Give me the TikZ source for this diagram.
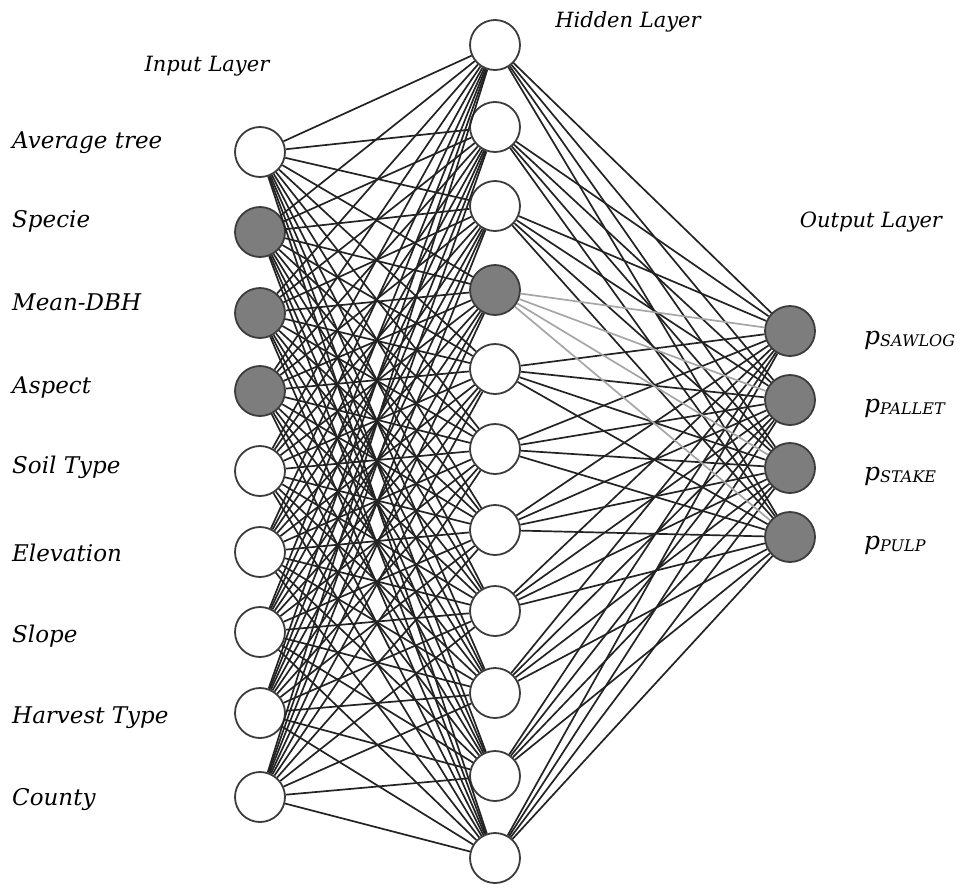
\documentclass[tikz,border=0pt]{standalone}
\usepackage{fontspec}
\setmainfont{DejaVu Serif}
\usepackage{tikz}
\usepackage{xcolor}
\definecolor{nodegray}{RGB}{125,125,125}
\definecolor{rimgray}{RGB}{60,60,60}
\definecolor{wiregray}{RGB}{35,35,35}

\begin{document}
\begin{tikzpicture}[x=1pt,y=-1pt]
	\tikzstyle{nn} = [circle,draw = rimgray,line width=1.8pt,fill=white,minimum size=50pt,inner sep=0pt]
	\tikzstyle{nf} = [nn,fill=nodegray]
	\tikzstyle{line} = [draw=wiregray,line width=1.7pt]
	\tikzstyle{faint} = [draw=black!35,line width=1.7pt]
	\tikzstyle{lbl} = [anchor=west,inner sep=0pt,font=\fontsize{23}{27}\selectfont\itshape]
	\tikzstyle{ttl} = [inner sep=0pt,font=\fontsize{21}{25}\selectfont\itshape]
\useasboundingbox (0,0) rectangle (969,889);
% input layer
\node(i1)[nn] at (260,152) {};
\node(i2)[nf] at (260,232) {};
\node(i3)[nf] at (260,313) {};
\node(i4)[nf] at (260,391) {};
\node(i5)[nn] at (260,471) {};
\node(i6)[nn] at (260,552) {};
\node(i7)[nn] at (260,632) {};
\node(i8)[nn] at (260,713) {};
\node(i9)[nn] at (260,797) {};
% hidden layer
\node(h1)[nn] at (495,45) {};
\node(h2)[nn] at (495,127) {};
\node(h3)[nn] at (495,206) {};
\node(h4)[nf] at (495,290) {};
\node(h5)[nn] at (495,369) {};
\node(h6)[nn] at (495,449) {};
\node(h7)[nn] at (495,530) {};
\node(h8)[nn] at (495,611) {};
\node(h9)[nn] at (495,693) {};
\node(h10)[nn] at (495,776) {};
\node(h11)[nn] at (495,858) {};
% output layer
\node(o1)[nf] at (790,331) {};
\node(o2)[nf] at (790,400) {};
\node(o3)[nf] at (790,468) {};
\node(o4)[nf] at (790,537) {};
% connections
\foreach \i in {1,...,9}
  \foreach \h in {1,...,11}
    \draw[line] (i\i) -- (h\h);
\foreach \h in {1,2,3,5,6,7,8,9,10,11}
  \foreach \o in {1,...,4}
    \draw[line] (h\h) -- (o\o);
\foreach \o in {1,...,4}
  \draw[faint] (h4) -- (o\o);
% titles
\node(tin)[ttl] at (207,66) {Input Layer};
\node(thid)[ttl] at (628,22) {Hidden Layer};
\node(tout)[ttl] at (871,222) {Output Layer};
% input names
\node(l1)[lbl] at (12,143) {Average tree};
\node(l2)[lbl] at (12,221) {Specie};
\node(l3)[lbl] at (12,302) {Mean-DBH};
\node(l4)[lbl] at (12,388) {Aspect};
\node(l5)[lbl] at (12,467) {Soil Type};
\node(l6)[lbl] at (12,553) {Elevation};
\node(l7)[lbl] at (12,636) {Slope};
\node(l8)[lbl] at (12,718) {Harvest Type};
\node(l9)[lbl] at (12,800) {County};
% output names
\newcommand{\outp}[1]{{\fontsize{25}{28}\selectfont p}\raisebox{-0.2ex}{\fontsize{16}{18}\selectfont\MakeUppercase{#1}}}
\node(p1)[lbl] at (864,340) {\outp{sawlog}};
\node(p2)[lbl] at (864,408) {\outp{pallet}};
\node(p3)[lbl] at (864,476) {\outp{stake}};
\node(p4)[lbl] at (864,545) {\outp{pulp}};
  \end{tikzpicture}
\end{document}
